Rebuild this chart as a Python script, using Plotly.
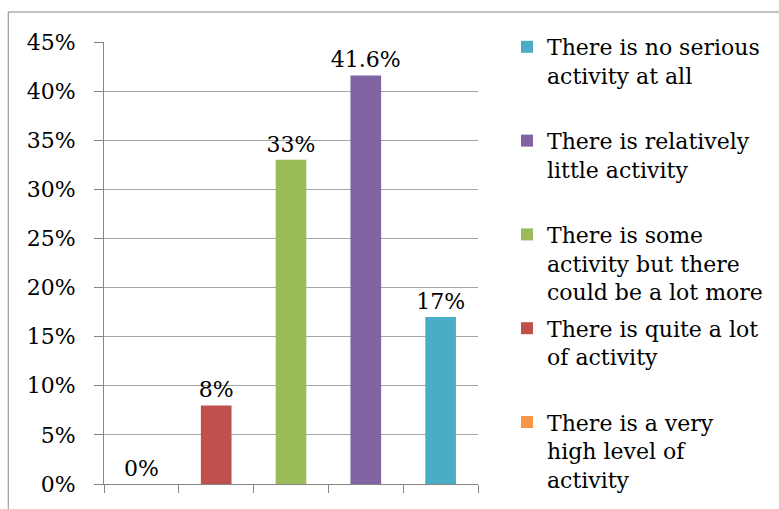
import plotly.graph_objects as go

# Data (in x order: left to right)
categories = [
    "There is a very high level of activity",
    "There is quite a lot of activity",
    "There is some activity but there could be a lot more",
    "There is relatively little activity",
    "There is no serious activity at all",
]
legend_names = [
    "There is a very<br>high level of<br>activity",
    "There is quite a lot<br>of activity<br> ",
    "There is some<br>activity but there<br>could be a lot more",
    "There is relatively<br>little activity<br> ",
    "There is no serious<br>activity at all<br> ",
]
values = [0.0, 0.08, 0.33, 0.416, 0.17]
colors = ["#F79646", "#C0504D", "#9BBB59", "#8064A2", "#4BACC6"]

W, H = 779, 509
L, R, T, B = 104, 300, 42, 25
pw = W - L - R
ph = H - T - B
FONT = "DejaVu Serif"

fig = go.Figure()
# add in reverse so the legend lists the rightmost bar first
for i in reversed(range(len(categories))):
    fig.add_trace(go.Bar(
        x=[categories[i]], y=[values[i]], name=legend_names[i], legendgroup=f"g{i}",
        marker=dict(color=colors[i], line=dict(width=0)),
        width=0.41,
        texttemplate="%{y:.1~%}", textposition="outside",
        textfont=dict(family=FONT, size=22, color="#000000"),
        constraintext="none",
        cliponaxis=False,
    ))

fig.update_layout(
    width=W, height=H,
    margin=dict(l=L, r=R, t=T, b=B, pad=0),
    paper_bgcolor="white", plot_bgcolor="white",
    barmode="overlay",
    showlegend=True,
    font=dict(family=FONT, size=22, color="#000000"),
    legend=dict(
        x=(507 - L) / pw, xanchor="left",
        y=1.0 + (T - 26) / ph, yanchor="top",
        traceorder="grouped",
        tracegroupgap=5,
        valign="top",
        maxheight=H,
        font=dict(family=FONT, size=22, color="#000000"),
        bgcolor="rgba(0,0,0,0)",
    ),
    xaxis=dict(
        type="category", categoryorder="array", categoryarray=categories,
        showticklabels=False, showgrid=False,
        showline=True, linecolor="#868686", linewidth=1,
        ticks="outside", ticklen=8, tickcolor="#868686", tickson="boundaries",
        zeroline=False,
    ),
    yaxis=dict(
        range=[0, 0.45], dtick=0.05, tickformat=".0%",
        showgrid=True, gridcolor="#a6a6a6", gridwidth=1,
        showline=True, linecolor="#868686", linewidth=1,
        ticks="outside", ticklen=9, tickcolor="#868686",
        ticklabelstandoff=14,
        zeroline=False,
        tickfont=dict(family=FONT, size=22, color="#000000"),
    ),
    shapes=[dict(
        type="rect", xref="paper", yref="paper",
        x0=(8 - L) / pw, x1=2.0,
        y0=-0.3, y1=1.0 + (T - 12) / ph,
        line=dict(color="#868686", width=1), fillcolor="rgba(0,0,0,0)",
        layer="below",
    )],
)

fig.write_html("out.html")
